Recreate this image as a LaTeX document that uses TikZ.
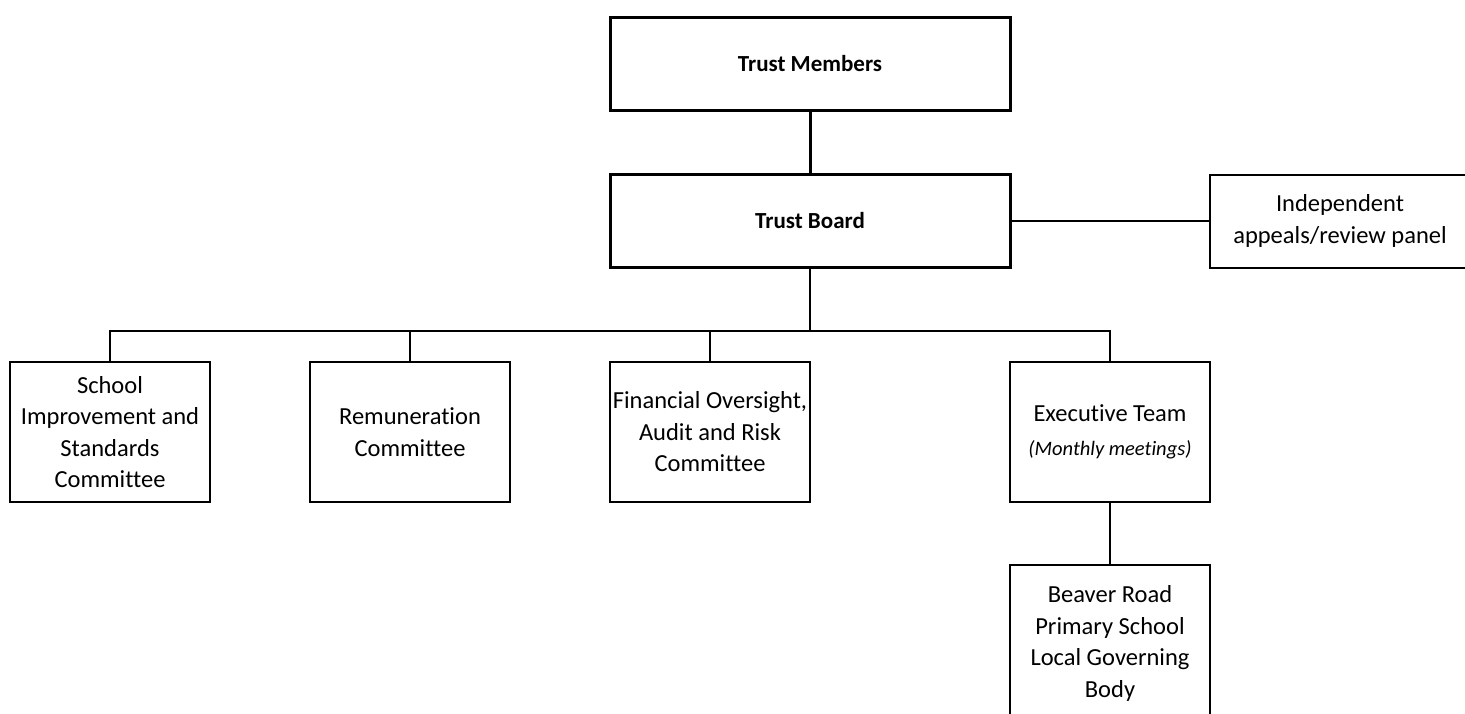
\documentclass[tikz,border=0pt]{standalone}
\usepackage{fontspec}
\setmainfont[Ligatures=NoCommon]{Carlito}
\begin{document}
\begin{tikzpicture}[x=1pt,y=-1pt,
  box/.style={draw, line width=2pt, minimum width=200pt, minimum height=140pt, align=center, inner sep=0pt, font=\fontsize{24.5}{31.5}\selectfont},
  bigbox/.style={draw, line width=3pt, minimum width=400pt, minimum height=93pt, inner sep=0pt, font=\bfseries\fontsize{23}{28}\selectfont},
  conn/.style={line width=2pt},
  thickconn/.style={line width=3pt}]
\useasboundingbox (0,0) rectangle (1465,713);
\clip (0,0) rectangle (1465,713);
\node[bigbox] (tm) at (810,63.5) {Trust Members};
\node[bigbox] (tb) at (810,221) {Trust Board};
\node[box, minimum width=260pt, minimum height=93pt] (panel) at (1340,221) {Independent\\appeals/review panel};
\node[box] (sis) at (110,432) {School\\Improvement and\\Standards\\Committee};
\node[box] (rem) at (410,432) {Remuneration\\Committee};
\node[box] (fin) at (710,432) {Financial Oversight,\\Audit and Risk\\Committee};
\node[box] (exec) at (1110,432) {Executive Team\\[2pt]{\itshape\fontsize{20.5}{26}\selectfont (Monthly meetings)}};
\node[box, minimum height=157pt] (lgb) at (1110,643.5) {Beaver Road\\Primary School\\Local Governing\\Body};
\coordinate (bus) at (810,331);
\draw[thickconn] (tm.south) -- (tb.north);
\draw[conn] (tb.east) -- (panel.west);
\draw[conn] (tb.south) -- (bus);
\draw[conn] (sis.north) -- (sis.north |- bus) -- (exec.north |- bus) -- (exec.north);
\draw[conn] (rem.north) -- (rem.north |- bus);
\draw[conn] (fin.north) -- (fin.north |- bus);
\draw[conn] (exec.south) -- (lgb.north);
\end{tikzpicture}
\end{document}
